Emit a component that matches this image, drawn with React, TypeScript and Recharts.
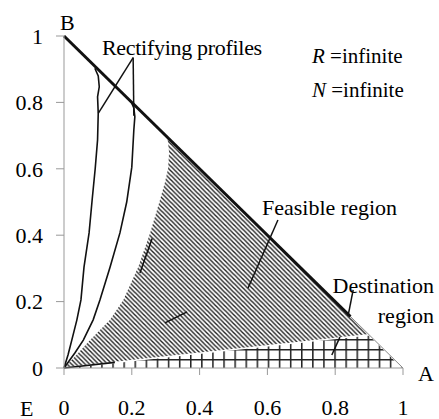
import React from 'react';
import { ComposedChart, XAxis, YAxis, Area, Line, ReferenceLine } from 'recharts';

const TICKS = [0, 0.2, 0.4, 0.6, 0.8, 1];

// feasible (hatched) region, upper outline
const feasibleX = [0, 0.042, 0.077, 0.136, 0.175, 0.219, 0.254, 0.283, 0.298, 0.307, 0.31, 0.305, 0.9, 1];
const feasibleY = [0, 0.045, 0.084, 0.145, 0.205, 0.304, 0.407, 0.506, 0.56, 0.6, 0.65, 0.695, 0.1, 0];

// destination (grid) region
const destX = [0, 0.9, 1];
const destY = [0, 0.1, 0];

// rectifying profiles
const prof1X = [0.091, 0.101, 0.104, 0.099, 0.101, 0.099, 0.092, 0.083, 0.074, 0.059, 0.05, 0.038, 0.023, 0.012, 0];
const prof1Y = [0.903, 0.88, 0.847, 0.817, 0.767, 0.687, 0.6, 0.506, 0.407, 0.304, 0.205, 0.145, 0.084, 0.04, 0];
const prof2X = [0.198, 0.206, 0.209, 0.206, 0.2, 0.185, 0.165, 0.136, 0.106, 0.086, 0.057, 0.032, 0];
const prof2Y = [0.802, 0.783, 0.757, 0.717, 0.605, 0.5, 0.407, 0.304, 0.205, 0.145, 0.084, 0.045, 0];
const edgeX = [0, 0.15];
const edgeY = [0, 0.017];

// triangle side B-A
const sideX = [0, 1];
const sideY = [1, 0];
const sideBoldX = [0, 0.845];
const sideBoldY = [1, 0.155];

// leader lines / arrows [x1, y1, x2, y2]
const leaders = [
  [0.204, 0.935, 0.101, 0.767],
  [0.204, 0.935, 0.206, 0.76],
  [0.631, 0.446, 0.543, 0.241],
  [0.853, 0.235, 0.838, 0.157],
  [0.814, 0.093, 0.79, 0.039],
  [0.224, 0.286, 0.26, 0.39],
  [0.298, 0.136, 0.363, 0.169],
];

const zip = (xs: number[], ys: number[]) => xs.map((x, i) => ({ x, y: ys[i] }));

const FONT = "'Liberation Serif', 'DejaVu Serif', serif";
const axisLine = { stroke: '#999' };
const tickStyle = { fill: '#000', fontSize: 22, style: { fontFamily: FONT } };

export default function App() {
  return (
    <div style={{ position: 'absolute', left: 0, top: 0, fontFamily: FONT }}>
      <ComposedChart width={439} height={419} margin={{ top: 36, right: 36, left: 0, bottom: 0 }} style={{ fontFamily: FONT }}>
        <defs>
          <pattern id="hatch" patternUnits="userSpaceOnUse" width="4.5" height="4.5">
            <path d="M0,0 L4.5,4.5 M-1,3.5 L1,5.5 M3.5,-1 L5.5,1" stroke="#222" strokeWidth="1.4" />
          </pattern>
          <pattern id="grid" patternUnits="userSpaceOnUse" x="1.3" y="-1" width="11.1" height="10">
            <rect width="11.1" height="10" fill="#fff" />
            <path d="M0.75,0 L0.75,10 M0,0.75 L11.1,0.75" stroke="#222" strokeWidth="1.5" />
          </pattern>
        </defs>
        <XAxis
          type="number"
          dataKey="x"
          domain={[0, 1]}
          ticks={TICKS}
          interval={0}
          height={51}
          axisLine={axisLine}
          tickLine={axisLine}
          tickSize={7}
          tickMargin={24}
          tick={tickStyle}
        />
        <YAxis
          type="number"
          domain={[0, 1]}
          ticks={TICKS}
          interval={0}
          width={64}
          axisLine={axisLine}
          tickLine={axisLine}
          tickSize={8}
          tickMargin={13}
          tick={tickStyle}
        />
        <Area data={zip(feasibleX, feasibleY)} dataKey="y" type="linear" stroke="none" fill="url(#hatch)" fillOpacity={1} isAnimationActive={false} />
        <Area data={zip(destX, destY)} dataKey="y" type="linear" stroke="#fff" strokeWidth={1.5} fill="url(#grid)" fillOpacity={1} isAnimationActive={false} />
        <Line data={zip(sideX, sideY)} dataKey="y" type="linear" stroke="#888" strokeWidth={1} dot={false} isAnimationActive={false} />
        <Line data={zip(sideBoldX, sideBoldY)} dataKey="y" type="linear" stroke="#111" strokeWidth={3} dot={false} isAnimationActive={false} />
        <Line data={zip(prof1X, prof1Y)} dataKey="y" type="linear" stroke="#111" strokeWidth={1.6} dot={false} isAnimationActive={false} />
        <Line data={zip(prof2X, prof2Y)} dataKey="y" type="linear" stroke="#111" strokeWidth={1.6} dot={false} isAnimationActive={false} />
        <Line data={zip(edgeX, edgeY)} dataKey="y" type="linear" stroke="#111" strokeWidth={1.6} dot={false} isAnimationActive={false} />
        {leaders.map(([x1, y1, x2, y2], i) => (
          <ReferenceLine
            key={`ld-${i}`}
            segment={[{ x: x1, y: y1 }, { x: x2, y: y2 }]}
            stroke="#111"
            strokeWidth={1.5}
            ifOverflow="visible"
          />
        ))}
        <g style={{ fontFamily: FONT }} fontSize={22} fill="#000">
          <text x={60} y={30}>B</text>
          <text x={20} y={416}>E</text>
          <text x={418} y={381}>A</text>
          <text x={102} y={55} letterSpacing={-0.3}>Rectifying profiles</text>
          <text x={312} y={63} fontSize={21}>
            <tspan fontStyle="italic">R</tspan> =infinite
          </text>
          <text x={312} y={97} fontSize={21}>
            <tspan fontStyle="italic">N</tspan> =infinite
          </text>
          <text x={262} y={215}>Feasible region</text>
          <text x={434} y={293} textAnchor="end">Destination</text>
          <text x={434} y={323} textAnchor="end">region</text>
        </g>
      </ComposedChart>
    </div>
  );
}
